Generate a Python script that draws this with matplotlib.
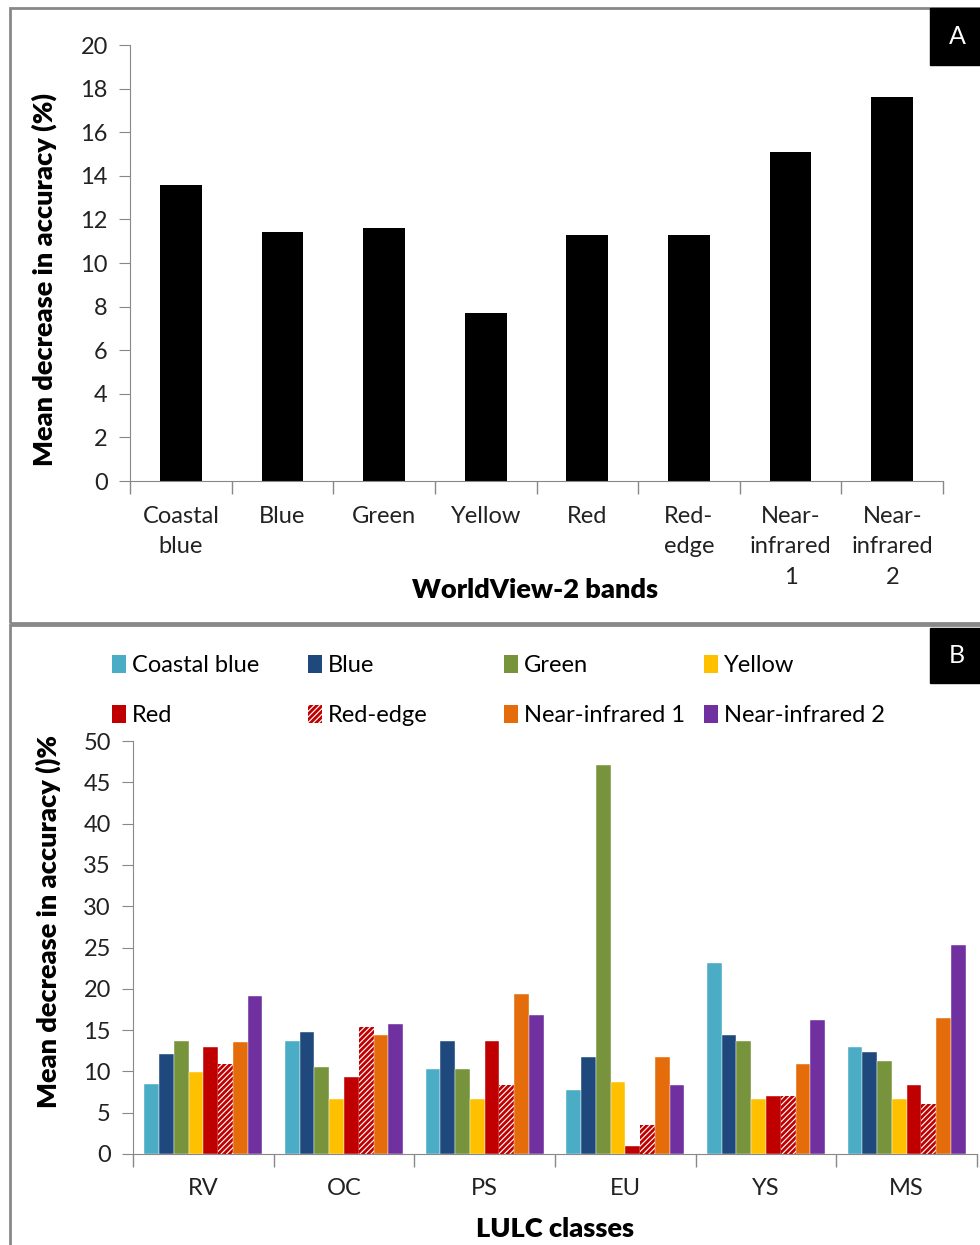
import numpy as np
import matplotlib
matplotlib.use('Agg')
import matplotlib.pyplot as plt
from matplotlib.patches import Rectangle, Patch

plt.rcParams['font.family'] = ['Lato', 'DejaVu Sans']
plt.rcParams['hatch.linewidth'] = 2.0

# Panel A data
bands_a = ['Coastal\nblue', 'Blue', 'Green', 'Yellow', 'Red', 'Red-\nedge',
           'Near-\ninfrared\n1', 'Near-\ninfrared\n2']
mda_a = [13.6, 11.4, 11.6, 7.7, 11.3, 11.3, 15.1, 17.6]

# Panel B data
classes = ['RV', 'OC', 'PS', 'EU', 'YS', 'MS']
band_names = ['Coastal blue', 'Blue', 'Green', 'Yellow', 'Red', 'Red-edge',
              'Near-infrared 1', 'Near-infrared 2']
coastal_blue = [8.5, 13.7, 10.3, 7.7, 23.1, 12.9]
blue = [12.1, 14.8, 13.7, 11.7, 14.4, 12.3]
green = [13.7, 10.5, 10.3, 47.1, 13.7, 11.2]
yellow = [9.9, 6.7, 6.7, 8.7, 6.7, 6.7]
red = [12.9, 9.3, 13.7, 1.0, 7.0, 8.4]
red_edge = [10.9, 15.4, 8.4, 3.5, 7.0, 6.1]
nir1 = [13.5, 14.4, 19.4, 11.7, 10.9, 16.5]
nir2 = [19.1, 15.7, 16.8, 8.4, 16.2, 25.3]
series_b = [coastal_blue, blue, green, yellow, red, red_edge, nir1, nir2]
colors_b = ['#4BACC6', '#1F497D', '#77933C', '#FFC000', '#C00000', '#C00000',
            '#E46C0A', '#7030A0']

W, H = 980, 1245
fig = plt.figure(figsize=(W / 100, H / 100), dpi=100)

def fx(px):
    return px / W

def fy(py):
    return 1 - py / H

gray = '#888888'
fs = 17
fl = 19.5

# panel frames
fig.add_artist(Rectangle((fx(10), fy(623)), fx(975), 615 / H, transform=fig.transFigure,
                         fill=False, edgecolor='#888888', lw=2))
fig.add_artist(Rectangle((fx(10), fy(1250)), fx(975), 625 / H, transform=fig.transFigure,
                         fill=False, edgecolor='#888888', lw=2))
# panel letters
for label, y0, y1 in [('A', 8, 65), ('B', 628, 683)]:
    fig.add_artist(Rectangle((fx(930), fy(y1)), fx(55), (y1 - y0) / H,
                             transform=fig.transFigure, color='black'))
    fig.text(fx(957), fy((y0 + y1) / 2), label, color='white', fontsize=18,
             ha='center', va='center')

# ---- Panel A ----
axA = fig.add_axes([fx(130), fy(481), fx(813), 436 / H])
x = np.arange(len(bands_a))
axA.bar(x, mda_a, width=0.41, color='black')
axA.set_xlim(-0.5, len(bands_a) - 0.5)
axA.set_ylim(0, 20)
axA.set_yticks(np.arange(0, 21, 2))
axA.set_xticks(x)
axA.set_xticklabels(bands_a, fontsize=fs, color='#222222', linespacing=1.55)
axA.set_xticks(np.arange(-0.5, len(bands_a)), minor=True)
axA.tick_params(axis='x', which='major', length=0, pad=18)
axA.tick_params(axis='x', which='minor', length=9, color=gray, width=1)
axA.tick_params(axis='y', length=8, color=gray, labelsize=fs, labelcolor='#222222', pad=8)
for s in ['top', 'right']:
    axA.spines[s].set_visible(False)
for s in ['left', 'bottom']:
    axA.spines[s].set_color(gray)
axA.set_ylabel('Mean decrease in accuracy (%)', fontsize=fl, fontweight='heavy')
axA.yaxis.set_label_coords(fx(57 - 130) / fx(813), (481 - 280) / 436)
fig.text(fx(535), fy(590), 'WorldView-2 bands', fontsize=fl, fontweight='heavy',
         ha='center', va='center')

# ---- Panel B ----
axB = fig.add_axes([fx(133), fy(1154), fx(844), 413 / H])
xb = np.arange(len(classes))
n = len(series_b)
bw = 0.84 / n
handles = []
for i, (vals, c, name) in enumerate(zip(series_b, colors_b, band_names)):
    pos = xb - 0.42 + bw * (i + 0.5)
    if name == 'Red-edge':
        axB.bar(pos, vals, width=bw, facecolor='white', edgecolor=c, hatch='//////', lw=0)
        handles.append(Patch(facecolor='white', edgecolor=c, hatch='//////', lw=0, label=name))
    else:
        axB.bar(pos, vals, width=bw, color=c, edgecolor='white', lw=0.3)
        handles.append(Patch(facecolor=c, label=name))
axB.set_xlim(-0.5, len(classes) - 0.5)
axB.set_ylim(0, 50)
axB.set_yticks(np.arange(0, 51, 5))
axB.set_xticks(xb)
axB.set_xticklabels(classes, fontsize=fs, color='#222222')
axB.set_xticks(np.arange(-0.5, len(classes)), minor=True)
axB.tick_params(axis='x', which='major', length=0, pad=17)
axB.tick_params(axis='x', which='minor', length=9, color=gray, width=1)
axB.tick_params(axis='y', length=8, color=gray, labelsize=fs, labelcolor='#222222', pad=8)
for s in ['top', 'right']:
    axB.spines[s].set_visible(False)
for s in ['left', 'bottom']:
    axB.spines[s].set_color(gray)
axB.set_ylabel('Mean decrease in accuracy ()%', fontsize=fl, fontweight='heavy')
axB.yaxis.set_label_coords(fx(61 - 133) / fx(844), (1154 - 922) / 413)
fig.text(fx(555), fy(1229), 'LULC classes', fontsize=fl, fontweight='heavy',
         ha='center', va='center')

# legend: four columns, two rows
col_x = [112, 308, 504, 704]
for j in range(4):
    fig.legend(handles=[handles[j], handles[j + 4]], loc='upper left',
               bbox_to_anchor=(fx(col_x[j]), fy(655)), frameon=False,
               fontsize=fs, handlelength=0.6, handleheight=0.8, handletextpad=0.25,
               labelspacing=1.2, borderpad=0, borderaxespad=0)

fig.savefig('out.png', dpi=100)
